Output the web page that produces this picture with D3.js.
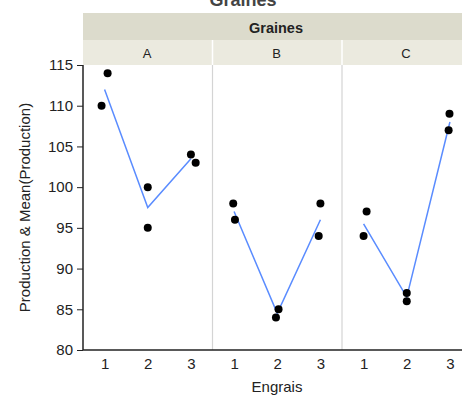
<!DOCTYPE html>
<html>
<head>
<meta charset="utf-8">
<script src="https://cdn.jsdelivr.net/npm/d3@7"></script>
<style>
  body { margin: 0; background: #fff; }
  svg { display: block; font-family: "Liberation Sans", Arial, sans-serif; }
</style>
</head>
<body>
<svg id="chart" width="462" height="396"></svg>
<script>
const graines = ['A', 'B', 'C'];
const engrais = [1, 2, 3];
// raw observations per Graines panel: [engrais, production]
const obsA = [[1, 110], [1, 114], [2, 100], [2, 95], [3, 104], [3, 103]];
const obsB = [[1, 98], [1, 96], [2, 85], [2, 84], [3, 98], [3, 94]];
const obsC = [[1, 94], [1, 97], [2, 87], [2, 86], [3, 107], [3, 109]];
// small horizontal jitter of each point, in engrais units
const jitA = [-0.07, 0.07, 0, 0, 0, 0.11];
const jitB = [-0.02, 0.02, 0.03, -0.03, 0, -0.04];
const jitC = [0, 0.07, 0, 0, -0.03, -0.01];
const yTicks = [80, 85, 90, 95, 100, 105, 110, 115];

const panels = [
  { name: 'A', obs: obsA, jit: jitA },
  { name: 'B', obs: obsB, jit: jitB },
  { name: 'C', obs: obsC, jit: jitC }
];

const left = 83;
const plotTop = 65;
const plotBottom = 350;
const panelW = 129.5;
const FONT = '"Liberation Sans", Arial, sans-serif';

const svg = d3.select('#chart');

const yScale = d3.scaleLinear([80, 115], [plotBottom, plotTop]);
const panelX = d3.scaleBand(graines, [left, left + panelW * 3]).padding(0);

/* cut-off title */
svg.append('text')
  .attr('x', 243).attr('y', 6)
  .attr('text-anchor', 'middle')
  .attr('font-size', 18)
  .attr('font-weight', 'bold')
  .attr('fill', '#444')
  .text('Graines');

/* header bands */
svg.append('rect')
  .attr('x', left).attr('y', 13)
  .attr('width', panelW * 3).attr('height', 27)
  .attr('fill', '#dcdbcc');
svg.append('text')
  .attr('x', 276).attr('y', 33)
  .attr('text-anchor', 'middle')
  .attr('font-size', 14.5)
  .attr('font-weight', 'bold')
  .attr('fill', '#222')
  .text('Graines');

panels.forEach((p) => {
  const x0 = panelX(p.name);
  svg.append('rect')
    .attr('x', x0).attr('y', 40)
    .attr('width', panelW).attr('height', 25)
    .attr('fill', '#ebeadf');
  svg.append('text')
    .attr('x', x0 + 64).attr('y', 58)
    .attr('text-anchor', 'middle')
    .attr('font-size', 13)
    .attr('fill', '#222')
    .text(p.name);
});

/* panel dividers */
panels.slice(1).forEach((p) => {
  const x0 = panelX(p.name);
  svg.append('line')
    .attr('x1', x0).attr('x2', x0)
    .attr('y1', plotTop).attr('y2', plotBottom)
    .attr('stroke', '#d4d4d4').attr('stroke-width', 1.2);
  svg.append('line')
    .attr('x1', x0).attr('x2', x0)
    .attr('y1', 40).attr('y2', plotTop)
    .attr('stroke', '#ffffff').attr('stroke-width', 1.5);
});

/* panels */
panels.forEach((p) => {
  const x0 = panelX(p.name);
  const xScale = d3.scaleLinear([0.5, 3.5], [x0, x0 + panelW]);
  const g = svg.append('g');

  const means = engrais.map((e) => ({
    e: e,
    m: d3.mean(p.obs.filter((o) => o[0] === e), (o) => o[1])
  }));

  g.append('path')
    .attr('fill', 'none')
    .attr('stroke', '#5a8cff')
    .attr('stroke-width', 1.5)
    .attr('d', d3.line().x((d) => xScale(d.e)).y((d) => yScale(d.m))(means));

  g.selectAll('.pt')
    .data(p.obs)
    .enter()
    .append('circle')
    .attr('r', 4)
    .attr('fill', '#000')
    .attr('cx', (d, i) => xScale(d[0] + p.jit[i]))
    .attr('cy', (d) => yScale(d[1]));

  const xAxis = d3.axisBottom(xScale).tickValues(engrais)
    .tickFormat(d3.format('d')).tickSize(0).tickPadding(8);
  const ax = svg.append('g')
    .attr('transform', `translate(0, ${plotBottom})`)
    .attr('font-size', null)
    .call(xAxis);
  ax.attr('font-size', 15).attr('font-family', FONT);
  ax.select('.domain').remove();
  ax.selectAll('text').attr('fill', '#222');
});

/* x axis baseline */
svg.append('line')
  .attr('x1', left).attr('x2', 462)
  .attr('y1', plotBottom).attr('y2', plotBottom)
  .attr('stroke', '#222').attr('stroke-width', 1.5);

/* left axis */
const yAxis = d3.axisLeft(yScale).tickValues(yTicks).tickSize(6).tickPadding(4);
const yg = svg.append('g')
  .attr('transform', `translate(${left}, 0)`)
  .call(yAxis);
yg.attr('font-size', 15).attr('font-family', FONT);
yg.select('.domain').attr('stroke', '#222').attr('stroke-width', 1.5)
  .attr('d', `M0,${plotTop}V${plotBottom}`);
yg.selectAll('line').attr('stroke', '#222');
yg.selectAll('text').attr('fill', '#222');

/* axis titles */
svg.append('text')
  .attr('transform', `translate(30, ${(plotTop + plotBottom) / 2}) rotate(-90)`)
  .attr('text-anchor', 'middle')
  .attr('font-size', 15)
  .attr('fill', '#222')
  .text('Production & Mean(Production)');

svg.append('text')
  .attr('x', 277).attr('y', 392)
  .attr('text-anchor', 'middle')
  .attr('font-size', 15)
  .attr('fill', '#222')
  .text('Engrais');
</script>
</body>
</html>
